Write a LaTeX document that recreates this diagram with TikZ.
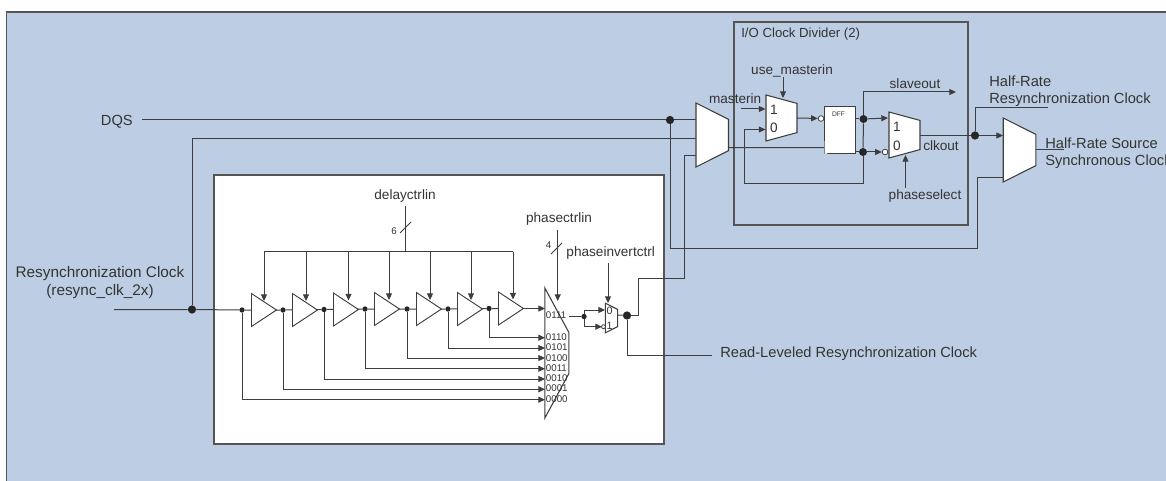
\documentclass[tikz,border=0pt]{standalone}
\usepackage{fontspec}
\setmainfont{Liberation Sans}
\usetikzlibrary{arrows.meta,shapes.geometric}
\definecolor{panelblue}{HTML}{BDCEE4}
\definecolor{wiregray}{HTML}{3E3E3E}
\definecolor{edgegray}{HTML}{555555}
\definecolor{inkgray}{HTML}{333333}
\tikzset{
  >={Triangle[length=5pt,width=4.5pt]},
  wire/.style={draw=wiregray, line width=0.75pt},
  panel/.style={draw=edgegray, line width=0.9pt},
  lbl/.style={text=inkgray, font=\fontsize{10.2}{12}\selectfont, inner sep=0pt},
  lblbig/.style={text=inkgray, font=\fontsize{11}{13}\selectfont, inner sep=0pt},
  lblres/.style={text=inkgray, font=\fontsize{11.5}{14}\selectfont, inner sep=0pt},
  lbltitle/.style={text=inkgray, font=\fontsize{9.9}{11}\selectfont, inner sep=0pt, anchor=west},
  lblcode/.style={text=inkgray, font=\fontsize{7.3}{8}\selectfont, inner sep=0pt, anchor=west},
  lbltiny/.style={text=inkgray, font=\fontsize{5}{6}\selectfont, inner sep=0pt},
  dotbig/.style={circle, fill=black!85, minimum size=6.2pt, inner sep=0pt},
  dotsmall/.style={circle, fill=black!85, minimum size=4pt, inner sep=0pt},
  bubble/.style={circle, draw=wiregray, fill=white, line width=0.6pt, minimum size=4.2pt, inner sep=0pt},
  bufcell/.style={isosceles triangle, isosceles triangle stretches, draw=wiregray, fill=white,
                  line width=0.7pt, minimum width=24.75pt, minimum height=18.75pt, inner sep=0pt,
                  anchor=lower side, execute at begin node={\phantom{x}}},
  muxcell/.style={trapezium, trapezium stretches, rotate=-90, draw=wiregray, fill=white,
                  line width=0.8pt, inner sep=0pt, execute at begin node={\phantom{x}}},
  muxwide/.style={muxcell, minimum width=48pt, minimum height=24.4pt, trapezium angle=63.8},
  muxdiv/.style={muxcell, minimum width=34.5pt, minimum height=23.25pt, trapezium angle=74.7},
  muxtall/.style={muxcell, minimum width=97.5pt, minimum height=18pt, trapezium angle=44.4},
  muxtiny/.style={muxcell, minimum width=22.3pt, minimum height=9.3pt, trapezium angle=70.7},
  dffcell/.style={rectangle, draw=wiregray, fill=white, line width=0.7pt, inner sep=0pt,
                  minimum width=23.25pt, minimum height=35.25pt},
  clkmark/.style={isosceles triangle, isosceles triangle stretches, draw=white, line width=0.5pt,
                  minimum width=4.2pt, minimum height=3.4pt, inner sep=0pt, anchor=lower side,
                  execute at begin node={\phantom{x}}},
}
\begin{document}
\begin{tikzpicture}[x=0.75pt, y=-0.75pt]
    \clip (0,0) rectangle (1166,481);
    \fill[panelblue] (6.5,12) rectangle (1166,481);
    \draw[panel] (6.5,481) -- (6.5,12) -- (1166,12);
    \node[panel, rectangle, fill=white, inner sep=0pt, minimum width=337.5pt, minimum height=201.75pt] (delaybox) at (439,309.5) {};
    \node[panel, rectangle, inner sep=0pt, minimum width=175.5pt, minimum height=152.25pt] (dividerbox) at (851,123.5) {};
    \node[lbltitle] (dividertitle) at (741,34.5) {I/O Clock Divider (2)};

    % top-left inputs
    \node[lblbig, anchor=east] (dqslabel) at (133,122) {DQS};
    \node[lblres, align=center] (resynclabel) at (100,282.5) {Resynchronization Clock\\(resync\_clk\_2x)};
    \coordinate (dqsin) at (142,120);
    \coordinate (resyncin) at (114,309.5);
    \node[dotbig] (dotresync) at (192,309.5) {};
    \node[dotbig] (dotdqs) at (670,120) {};

    % first mux and its wires
    \coordinate (m1a) at (696,120);
    \coordinate (m1b) at (696,138.5);
    \coordinate (m1c) at (696,156);
    \coordinate (m1out) at (729,147.5);
    \draw[wire] (dqsin) -- (dotdqs) -- (m1a);
    \draw[wire] (dotresync) |- (m1b);
    \coordinate (m2b) at (1003,177);
    \draw[wire] (dotdqs) |- (977,248) |- (m2b);
    \node[muxwide] (mux1) at (712.25,135) {};

    % delay chain
    \node[dotsmall] (d1) at (242,310) {};
    \node[dotsmall] (d2) at (283,310) {};
    \node[dotsmall] (d3) at (324,309.5) {};
    \node[dotsmall] (d4) at (365,309) {};
    \node[dotsmall] (d5) at (407,309) {};
    \node[dotsmall] (d6) at (448,309) {};
    \node[dotsmall] (d7) at (489,308.5) {};
    \coordinate (bmout) at (523,308.5);
    \draw[wire] (resyncin) -- (dotresync) -- (d1) -- (d2) -- (d3) -- (d4) -- (d5) -- (d6) -- (d7) -- (bmout);
    \draw[wire, ->] (bmout) -- (545,308.5);
    \node[bufcell] (b1) at (251,310) {};
    \node[bufcell] (b2) at (292,310) {};
    \node[bufcell] (b3) at (333,309.5) {};
    \node[bufcell] (b4) at (374,309) {};
    \node[bufcell] (b5) at (416,309) {};
    \node[bufcell] (b6) at (457,309) {};
    \node[bufcell] (b7) at (498,308.5) {};

    % delay control bus
    \node[lbl] (delaylabel) at (405,195.5) {delayctrlin};
    \coordinate (delaytop) at (405,206);
    \coordinate (delaybus) at (405,251.5);
    \draw[wire] (delaytop) -- (delaybus);
    \draw[wire] (400,233) -- (411,222);
    \node[lblcode] (delaysix) at (391,231) {6};
    \draw[wire] (264,251.5) -- (513,251.5);
    \draw[wire, ->] (264,251.5) -- (264,301);
    \draw[wire, ->] (306,251.5) -- (306,301);
    \draw[wire, ->] (348.5,251.5) -- (348.5,300.5);
    \draw[wire, ->] (389,251.5) -- (389,300);
    \draw[wire, ->] (430,251.5) -- (430,300);
    \draw[wire, ->] (471,251.5) -- (471,300);
    \draw[wire, ->] (513,251.5) -- (513,299.5);

    % tap wires into phase mux
    \coordinate (p1) at (545,337.7);
    \coordinate (p2) at (545,348);
    \coordinate (p3) at (545,358);
    \coordinate (p4) at (545,368.7);
    \coordinate (p5) at (545,379);
    \coordinate (p6) at (545,389.3);
    \coordinate (p7) at (545,399.7);
    \draw[wire, ->] (d7) |- (p1);
    \draw[wire, ->] (d6) |- (p2);
    \draw[wire, ->] (d5) |- (p3);
    \draw[wire, ->] (d4) |- (p4);
    \draw[wire, ->] (d3) |- (p5);
    \draw[wire, ->] (d2) |- (p6);
    \draw[wire, ->] (d1) |- (p7);
    \node[muxtall] (phasemux) at (556.85,353) {};
    \node[lblcode] (c0) at (545.7,315.5) {0111};
    \node[lblcode] (c1) at (545.7,337.5) {0110};
    \node[lblcode] (c2) at (545.7,347.5) {0101};
    \node[lblcode] (c3) at (545.7,358) {0100};
    \node[lblcode] (c4) at (545.7,368.5) {0011};
    \node[lblcode] (c5) at (545.7,378.5) {0010};
    \node[lblcode] (c6) at (545.7,388.5) {0001};
    \node[lblcode] (c7) at (545.7,399) {0000};
    \node[lbl] (phaselabel) at (559,218.5) {phasectrlin};
    \coordinate (phasetop) at (557.7,230);
    \draw[wire, ->] (phasetop) -- (557.7,301);
    \draw[wire] (551,254) -- (562,243);
    \node[lblcode] (phasefour) at (545.5,245) {4};

    % phase invert mux
    \node[dotsmall] (dinv) at (584,316.5) {};
    \node[dotbig] (dotout) at (627,315.5) {};
    \coordinate (pout) at (568.7,316.5);
    \coordinate (inva) at (605,310);
    \coordinate (invb) at (602,326.7);
    \coordinate (invout) at (617.7,315);
    \draw[wire] (pout) -- (dinv);
    \draw[wire, ->] (dinv) |- (inva);
    \draw[wire, ->] (dinv) |- (invb);
    \node[muxtiny] (invmux) at (611.5,318) {};
    \node[bubble, minimum size=3pt] (invbub) at (603.5,326.7) {};
    \node[lblcode, anchor=center, font=\fontsize{8}{9}\selectfont] (inv0) at (609.5,310.5) {0};
    \node[lblcode, anchor=center, font=\fontsize{8}{9}\selectfont] (inv1) at (609.5,326) {1};
    \node[lbl] (invlabel) at (610.7,252.5) {phaseinvertctrl};
    \coordinate (invtop) at (608,263);
    \draw[wire, ->] (invtop) -- (608,303);
    \draw[wire] (invout) -- (dotout);
    \coordinate (readend) at (712,355);
    \node[lblbig, anchor=west] (readlabel) at (720,353.5) {Read-Leveled Resynchronization Clock};
    \draw[wire] (dotout) |- (readend);
    \draw[wire] (dotout) -| (638,278) -| (684,156) -- (m1c);

    % clock divider
    \node[dffcell] (dff) at (840,130) {};
    \node[lbltiny] (dfflabel) at (838.5,114) {DFF};
    \node[muxdiv] (mux3) at (781.5,118) {};
    \node[muxdiv] (clkmux) at (904.5,135) {};
    \node[dotsmall, minimum size=6pt] (dq) at (863.5,119) {};
    \node[dotsmall, minimum size=6pt] (dqn) at (863,152) {};
    \node[bubble] (dffbub) at (821,118.5) {};
    \node[bubble] (clkbub) at (885,152) {};
    \coordinate (clkpin) at (824,147.7);
    \draw[wire] (m1out) -- (clkpin);
    \node[clkmark] (dffclk) at (824.5,147.7) {};
    \draw[wire, ->] (797,118) -- (dffbub);
    \coordinate (slaveend) at (956,92);
    \draw[wire] (dq) -- (dqn);
    \draw[wire, ->] (dq) |- (slaveend);
    \draw[wire, ->] (dqn) |- (744,183) |- (765.5,129.5);
    \coordinate (mastin) at (741,109);
    \draw[wire, ->] (mastin) -- (765.5,109);
    \draw[wire] (855,119) -- (dq);
    \draw[wire] (855,152) -- (dqn);
    \draw[wire, ->] (dq) -- (888,118);
    \draw[wire, ->] (dqn) -- (clkbub);
    \coordinate (usetop) at (783,77);
    \draw[wire, ->] (usetop) -- (783,98);
    \coordinate (phasesel) at (905.5,188);
    \draw[wire, ->] (phasesel) -- (905.5,155);
    \node[lbl, anchor=east] (masterlabel) at (761.5,99) {masterin};
    \node[lbl] (uselabel) at (792,71) {use\_masterin};
    \node[lbl] (slavelabel) at (915,84) {slaveout};
    \node[lbl] (clkoutlabel) at (941,146) {clkout};
    \node[lbl] (selectlabel) at (925,195.5) {phaseselect};
    \node[lbl] (m3one) at (774,109.5) {1};
    \node[lbl] (m3zero) at (774,127.5) {0};
    \node[lbl] (clkone) at (897,127) {1};
    \node[lbl] (clkzero) at (897,146) {0};

    % half-rate outputs
    \node[dotbig] (dothalf) at (975,135.5) {};
    \coordinate (halfend) at (1048,108);
    \coordinate (m2a) at (1003,135.5);
    \coordinate (m2out) at (1064,150);
    \draw[wire] (920,135.5) -- (dothalf);
    \draw[wire, ->] (dothalf) -- (m2a);
    \draw[wire] (dothalf) |- (halfend);
    \draw[wire] (1036,150) -- (m2out);
    \node[muxwide] (mux2) at (1019.5,150) {};
    \node[lblbig, anchor=west, align=left] (halflabel) at (989,91) {Half-Rate\\Resynchronization Clock};
    \node[lblbig, anchor=west, align=left] (sourcelabel) at (1045,153) {Half-Rate Source\\Synchronous Clock};
  \end{tikzpicture}
\end{document}
